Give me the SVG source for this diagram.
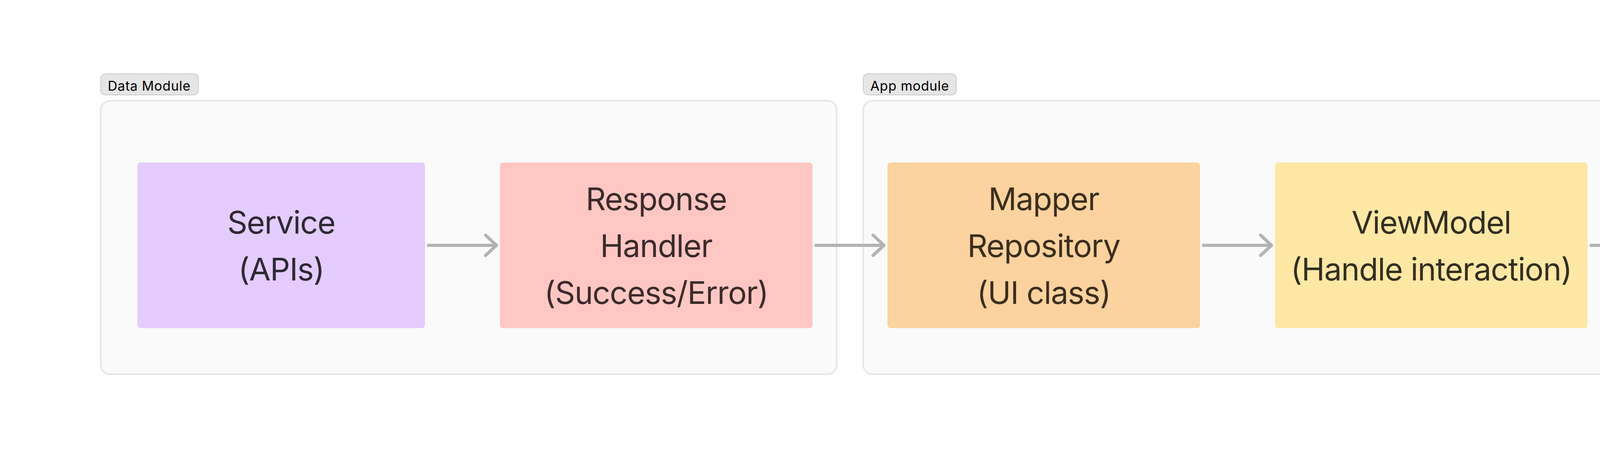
<svg xmlns="http://www.w3.org/2000/svg" width="5408" height="1216" viewBox="0 0 5408 1216">
<defs>
<style>
.bg{fill:#ffffff}
.group{fill:#fafafa;stroke:#e6e6e6;stroke-width:4}
.tag{fill:#e6e6e6;stroke:#c9c9c9;stroke-width:2}
.tagtext{font-family:Inter,"Liberation Sans",sans-serif;font-size:34px;letter-spacing:0.8px;fill:#000000;text-anchor:middle}
.node text{font-family:Inter,"Liberation Sans",sans-serif;font-size:80px;letter-spacing:-1.4px;text-anchor:middle}
.conn{fill:none;stroke:#b3b3b3;stroke-width:8;stroke-linecap:round;stroke-linejoin:round}
</style>
</defs>
<rect class="bg" x="0" y="0" width="5408" height="1216"/>
<g id="group-data">
<rect class="group" x="258" y="258" width="1884" height="700" rx="24"/>
<rect class="tag" x="258" y="189" width="250" height="54" rx="13"/>
<text class="tagtext" x="382" y="232">Data Module</text>
</g>
<g id="group-app">
<rect class="group" x="2210" y="258" width="2940" height="700" rx="24"/>
<rect class="tag" x="2210" y="189" width="238" height="54" rx="13"/>
<text class="tagtext" x="2329" y="232">App module</text>
</g>
<g id="node-service" class="node">
<rect x="352" y="416" width="736" height="424" rx="8" fill="#e4ccfe"/>
<text fill="#2d2933"><tspan x="720" y="598">Service</tspan><tspan x="720" y="718">(APIs)</tspan></text>
</g>
<g id="node-response" class="node">
<rect x="1280" y="416" width="800" height="424" rx="8" fill="#ffc7c2"/>
<text fill="#3b2b2a"><tspan x="1680" y="538">Response</tspan><tspan x="1680" y="658">Handler</tspan><tspan x="1680" y="778">(Success/Error)</tspan></text>
</g>
<g id="node-mapper" class="node">
<rect x="2272" y="416" width="800" height="424" rx="8" fill="#fcd29e"/>
<text fill="#3a2e1e"><tspan x="2672" y="538">Mapper</tspan><tspan x="2672" y="658">Repository</tspan><tspan x="2672" y="778">(UI class)</tspan></text>
</g>
<g id="node-viewmodel" class="node">
<rect x="3264" y="416" width="800" height="424" rx="8" fill="#fee8a4"/>
<text fill="#342e22"><tspan x="3664" y="598">ViewModel</tspan><tspan x="3664" y="718">(Handle interaction)</tspan></text>
</g>
<g id="node-ui" class="node">
<rect x="4256" y="416" width="800" height="424" rx="8" fill="#aff4c6"/>
<text fill="#24302a"><tspan x="4656" y="538">User interface</tspan><tspan x="4656" y="658">(Components,</tspan><tspan x="4656" y="778">Screen)</tspan></text>
</g>
<g id="connectors">
<path class="conn" d="M1097 628H1271M1243 602L1271 628L1243 654"/>
<path class="conn" d="M2089 628H2263M2235 602L2263 628L2235 654"/>
<path class="conn" d="M3081 628H3255M3227 602L3255 628L3227 654"/>
<path class="conn" d="M4073 628H4247M4219 602L4247 628L4219 654"/>
</g>
</svg>
